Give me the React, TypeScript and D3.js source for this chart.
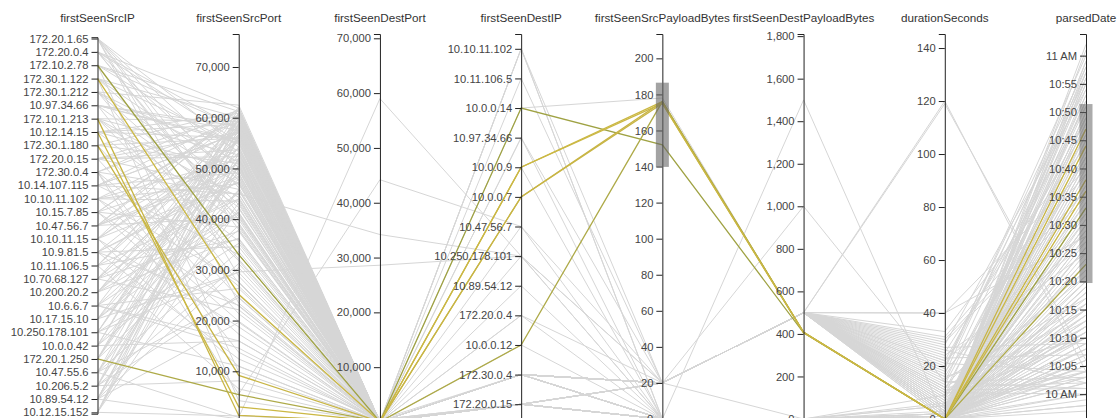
import React, { useEffect, useRef } from "react";
import * as d3 from "d3";

const dimensions = [
  "firstSeenSrcIP",
  "firstSeenSrcPort",
  "firstSeenDestPort",
  "firstSeenDestIP",
  "firstSeenSrcPayloadBytes",
  "firstSeenDestPayloadBytes",
  "durationSeconds",
  "parsedDate",
];

const srcIPs = [
  "172.20.1.65", "172.20.0.4", "172.10.2.78", "172.30.1.122", "172.30.1.212",
  "10.97.34.66", "172.10.1.213", "10.12.14.15", "172.30.1.180", "172.20.0.15",
  "172.30.0.4", "10.14.107.115", "10.10.11.102", "10.15.7.85", "10.47.56.7",
  "10.10.11.15", "10.9.81.5", "10.11.106.5", "10.70.68.127", "10.200.20.2",
  "10.6.6.7", "10.17.15.10", "10.250.178.101", "10.0.0.42", "172.20.1.250",
  "10.47.55.6", "10.206.5.2", "10.89.54.12", "10.12.15.152",
];

const destIPs = [
  "10.10.11.102", "10.11.106.5", "10.0.0.14", "10.97.34.66", "10.0.0.9",
  "10.0.0.7", "10.47.56.7", "10.250.178.101", "10.89.54.12", "172.20.0.4",
  "10.0.0.12", "172.30.0.4", "172.20.0.15",
];

// Axis extents
const srcPortMax = 76507;
const destPortMax = 70785;
const srcPayloadMax = 213.5;
const destPayloadMax = 1810;
const durationMax = 145.3;
const dateExtent = ["09:55:36", "11:03:50"];

// Active brushes
const srcPayloadBrush = [139.8, 186.5];
const dateBrush = ["10:19:42", "10:51:25"];

// [srcIP index, srcPort, destPort, destIP index, srcPayloadBytes, destPayloadBytes, durationSeconds, time]
const flows: [number, number, number, number, number, number, number, string][] = [
  // flows inside both brushes
  [2, 33000, 53, 2, 152, 405, 0, "10:33"],
  [3, 25200, 53, 4, 176, 408, 0, "10:44"],
  [6, 1300, 53, 5, 176, 408, 0, "10:47"],
  [8, 9200, 53, 5, 175, 406, 0, "10:38"],
  [24, 5400, 53, 10, 176, 408, 0, "10:23"],
  [7, 3000, 80, 4, 175, 407, 0, "10:36"],
  // empty payload flows
  [0, 54210, 53, 12, 0, 0, 0, "10:58"],
  [1, 61877, 53, 12, 0, 0, 0, "10:12"],
  [4, 62480, 80, 11, 0, 0, 1, "10:41"],
  [5, 58311, 53, 12, 0, 0, 0, "10:03"],
  [7, 49602, 443, 12, 0, 0, 2, "10:27"],
  [9, 57140, 53, 11, 0, 0, 0, "10:15"],
  [10, 44872, 53, 12, 0, 0, 0, "10:49"],
  [11, 60215, 123, 12, 0, 0, 0, "10:06"],
  [12, 51833, 53, 12, 0, 0, 1, "10:33"],
  [13, 38420, 53, 11, 0, 0, 0, "09:58"],
  [14, 59987, 80, 12, 0, 0, 0, "10:18"],
  [15, 47215, 53, 12, 0, 0, 3, "10:55"],
  [16, 55480, 53, 12, 0, 0, 0, "10:09"],
  [17, 36017, 443, 11, 0, 0, 0, "10:44"],
  [18, 52977, 53, 12, 0, 0, 0, "10:22"],
  [19, 41338, 53, 12, 0, 0, 6, "10:04"],
  [20, 58745, 53, 12, 0, 0, 0, "10:37"],
  [21, 29506, 137, 12, 0, 0, 0, "10:11"],
  [22, 56021, 53, 11, 0, 0, 0, "10:52"],
  [23, 45790, 53, 12, 0, 0, 0, "10:02"],
  [24, 61012, 80, 12, 0, 0, 2, "10:29"],
  [25, 33650, 53, 12, 0, 0, 0, "10:14"],
  [26, 50488, 53, 12, 0, 0, 0, "10:46"],
  [27, 57890, 53, 11, 0, 0, 0, "10:07"],
  [28, 42105, 443, 12, 0, 0, 0, "10:35"],
  [2, 53320, 53, 12, 0, 0, 0, "10:19"],
  [3, 48760, 53, 12, 0, 0, 1, "10:00"],
  [6, 59210, 53, 11, 0, 0, 0, "10:57"],
  [8, 24480, 53, 12, 0, 0, 0, "10:10"],
  [0, 46230, 80, 12, 0, 0, 0, "10:24"],
  [1, 39870, 53, 12, 0, 0, 0, "10:05"],
  [5, 54990, 53, 12, 0, 0, 0, "10:40"],
  [9, 21350, 53, 11, 0, 0, 0, "10:13"],
  [11, 49125, 53, 12, 0, 0, 9, "10:53"],
  [13, 60544, 53, 12, 0, 0, 0, "10:08"],
  [15, 18760, 123, 12, 0, 0, 0, "10:31"],
  [17, 55870, 53, 12, 0, 0, 0, "09:57"],
  [19, 51460, 53, 11, 0, 0, 0, "10:16"],
  [21, 57320, 53, 12, 0, 0, 0, "10:48"],
  [23, 15980, 53, 12, 0, 0, 1, "10:04"],
  [25, 58870, 80, 12, 0, 0, 0, "10:26"],
  [27, 43210, 53, 12, 0, 0, 0, "10:59"],
  [10, 61590, 53, 11, 0, 0, 0, "10:12"],
  [12, 27640, 53, 12, 0, 0, 0, "10:39"],
  [14, 53780, 53, 12, 0, 0, 0, "10:03"],
  [16, 12430, 443, 12, 0, 0, 0, "10:21"],
  [18, 59640, 53, 12, 0, 0, 5, "10:51"],
  [20, 47890, 53, 11, 0, 0, 0, "10:07"],
  [22, 35210, 53, 12, 0, 0, 0, "10:17"],
  [24, 56640, 53, 12, 0, 0, 0, "10:43"],
  [26, 8120, 53, 12, 0, 0, 0, "09:59"],
  [28, 52110, 80, 12, 0, 0, 0, "10:28"],
  [7, 60870, 53, 11, 0, 0, 0, "10:56"],
  [4, 40560, 53, 12, 0, 0, 0, "10:09"],
  [6, 31780, 53, 12, 0, 0, 1, "10:34"],
  [2, 58030, 53, 12, 0, 0, 0, "10:14"],
  [8, 50960, 53, 12, 0, 0, 0, "11:01"],
  [3, 4210, 123, 11, 0, 0, 0, "10:06"],
  [0, 37950, 53, 12, 0, 0, 0, "10:45"],
  [1, 55210, 53, 12, 0, 0, 0, "10:20"],
  [27, 600, 53, 12, 0, 0, 0, "10:25"],
  [28, 1200, 53, 11, 0, 0, 0, "10:37"],
  [4, 51240, 53, 12, 0, 0, 0, "10:47"],
  [5, 27450, 53, 12, 0, 0, 0, "10:09"],
  [9, 45870, 53, 12, 0, 0, 0, "10:36"],
  [10, 13750, 53, 12, 0, 0, 0, "10:00"],
  [11, 56980, 53, 12, 0, 0, 1, "10:23"],
  [13, 22870, 53, 12, 0, 0, 0, "10:50"],
  [14, 40320, 53, 12, 0, 0, 0, "10:13"],
  [15, 61980, 53, 12, 0, 0, 0, "10:41"],
  [16, 48210, 53, 12, 0, 0, 0, "09:58"],
  [17, 6540, 53, 12, 0, 0, 0, "10:30"],
  [18, 37620, 53, 12, 0, 0, 0, "10:54"],
  [19, 58210, 53, 12, 0, 0, 0, "10:11"],
  [20, 26340, 53, 12, 0, 0, 0, "10:38"],
  [21, 43980, 53, 12, 0, 0, 2, "10:05"],
  [22, 11020, 53, 12, 0, 0, 0, "10:26"],
  [23, 59780, 53, 12, 0, 0, 0, "10:49"],
  [25, 50390, 53, 12, 0, 0, 0, "10:16"],
  [26, 31240, 53, 12, 0, 0, 0, "10:43"],
  [27, 19650, 53, 12, 0, 0, 0, "10:02"],
  [28, 60040, 53, 12, 0, 0, 0, "10:33"],
  [0, 23450, 53, 12, 0, 0, 0, "10:18"],
  [1, 47650, 53, 12, 0, 0, 0, "11:02"],
  [2, 9870, 53, 12, 0, 0, 0, "10:07"],
  [3, 54760, 53, 12, 0, 0, 0, "10:28"],
  [6, 44320, 53, 12, 0, 0, 0, "10:52"],
  [7, 35670, 53, 12, 0, 0, 0, "10:04"],
  [8, 61320, 53, 12, 0, 0, 0, "10:40"],
  [12, 57430, 53, 12, 0, 0, 0, "10:24"],
  // 20 byte requests with 500 byte answers
  [0, 50120, 53, 11, 20, 500, 4, "10:38"],
  [2, 61230, 53, 11, 20, 500, 12, "10:02"],
  [4, 46870, 53, 12, 20, 500, 0, "10:50"],
  [5, 55430, 53, 11, 20, 500, 8, "10:15"],
  [6, 39210, 53, 11, 20, 500, 22, "10:27"],
  [7, 58760, 53, 11, 20, 500, 2, "10:05"],
  [9, 52340, 53, 12, 20, 500, 16, "10:42"],
  [10, 26780, 53, 11, 20, 500, 6, "10:11"],
  [11, 57010, 53, 11, 20, 500, 28, "10:54"],
  [12, 43560, 53, 11, 20, 500, 1, "10:19"],
  [13, 60120, 53, 12, 20, 500, 10, "10:00"],
  [14, 48430, 53, 11, 20, 500, 18, "10:32"],
  [15, 53890, 53, 11, 20, 500, 3, "10:08"],
  [16, 34560, 53, 11, 20, 500, 25, "10:47"],
  [17, 59340, 53, 12, 20, 500, 5, "10:23"],
  [18, 22130, 53, 11, 20, 500, 14, "10:03"],
  [19, 56780, 53, 11, 20, 500, 30, "10:36"],
  [20, 41230, 53, 11, 20, 500, 9, "10:13"],
  [21, 51670, 53, 12, 20, 500, 20, "10:58"],
  [22, 58120, 53, 11, 20, 500, 7, "10:10"],
  [23, 37890, 53, 11, 20, 500, 12, "10:29"],
  [24, 54320, 53, 11, 20, 500, 33, "10:44"],
  [25, 45670, 53, 12, 20, 500, 2, "10:06"],
  [26, 60890, 53, 11, 20, 500, 15, "10:17"],
  [27, 30450, 53, 11, 20, 500, 4, "10:52"],
  [28, 49780, 53, 11, 20, 500, 24, "10:25"],
  [1, 57650, 53, 12, 20, 500, 11, "10:01"],
  [3, 42890, 53, 11, 20, 500, 40, "10:40"],
  [8, 55990, 53, 11, 20, 500, 6, "10:12"],
  [12, 19870, 53, 11, 20, 500, 17, "10:57"],
  [14, 61540, 53, 12, 20, 500, 1, "10:30"],
  [16, 47320, 53, 11, 20, 500, 21, "10:04"],
  [18, 53140, 53, 11, 20, 500, 13, "10:49"],
  [20, 14560, 53, 11, 20, 500, 3, "10:18"],
  [22, 59870, 53, 12, 20, 500, 27, "10:09"],
  [24, 38760, 53, 11, 20, 500, 8, "10:34"],
  [26, 52890, 53, 11, 20, 500, 19, "11:00"],
  [28, 56450, 53, 11, 20, 500, 5, "10:14"],
  [0, 28760, 53, 12, 20, 500, 10, "10:21"],
  [9, 60450, 53, 11, 20, 500, 2, "10:45"],
  [11, 44980, 53, 11, 20, 500, 23, "10:07"],
  [13, 50760, 53, 11, 20, 500, 0, "10:53"],
  [15, 10980, 53, 12, 20, 500, 12, "10:16"],
  [17, 58540, 53, 11, 20, 500, 31, "10:39"],
  [19, 36240, 53, 11, 20, 500, 26, "10:02"],
  [4, 32100, 53, 11, 20, 500, 7, "10:31"],
  [6, 52650, 53, 11, 20, 500, 16, "10:10"],
  [10, 59120, 53, 11, 20, 500, 11, "10:46"],
  [13, 17340, 53, 11, 20, 500, 4, "10:20"],
  [15, 55340, 53, 11, 20, 500, 19, "10:56"],
  [19, 48990, 53, 11, 20, 500, 1, "10:12"],
  [21, 40890, 53, 11, 20, 500, 29, "10:35"],
  [23, 61780, 53, 11, 20, 500, 6, "10:03"],
  [25, 24560, 53, 11, 20, 500, 22, "10:51"],
  [27, 56120, 53, 11, 20, 500, 10, "10:15"],
  [5, 42340, 53, 11, 20, 500, 3, "10:42"],
  [9, 53670, 53, 11, 20, 500, 14, "10:01"],
  // other flows
  [25, 900, 59000, 7, 0, 0, 1, "10:15"],
  [10, 5500, 44200, 6, 20, 1000, 14, "10:55"],
  [18, 45000, 34200, 7, 0, 0, 2, "10:26"],
  [22, 29600, 28600, 7, 20, 0, 0, "10:11"],
  [0, 41000, 80, 0, 0, 1500, 0, "10:30"],
  [5, 57500, 53, 0, 20, 500, 120, "10:04"],
  [14, 49800, 53, 1, 20, 500, 119, "10:06"],
  [11, 33000, 53, 2, 178, 405, 0, "10:56"],
  [16, 23000, 53, 3, 0, 0, 0, "10:32"],
  [27, 52000, 53, 3, 20, 500, 3, "10:48"],
  [20, 16000, 80, 8, 0, 0, 5, "10:10"],
  [3, 60000, 53, 9, 0, 0, 1, "10:42"],
  [26, 25000, 53, 9, 20, 500, 9, "10:22"],
  [12, 47000, 53, 6, 0, 0, 0, "10:59"],
  [7, 56000, 53, 0, 0, 0, 0, "10:19"],
  [1, 39000, 53, 4, 0, 0, 2, "10:57"],
  [24, 50500, 53, 10, 0, 0, 0, "10:08"],
  [17, 44000, 53, 7, 20, 500, 40, "10:28"],
];

const parseTime = (s: string) => {
  const [h, m, sec] = s.split(":").map(Number);
  return new Date(2013, 3, 1, h, m, sec || 0);
};

export default function App() {
  const ref = useRef<SVGSVGElement>(null);

  useEffect(() => {
    const svg = d3.select(ref.current);
    svg.selectAll("*").remove();

    const top = 34;
    const bottom = 419;
    const portBottom = 422;
    const font = "'Liberation Sans', Arial, sans-serif";

    const x = d3.scalePoint<string>().domain(dimensions).range([97.5, 1086]);

    const y: Record<string, any> = {
      firstSeenSrcIP: d3.scalePoint<string>().domain(srcIPs).range([37.2, 413.7]).padding(0.1),
      firstSeenSrcPort: d3.scaleLinear().domain([0, srcPortMax]).range([portBottom, top]),
      firstSeenDestPort: d3.scaleLinear().domain([0, destPortMax]).range([portBottom, top]),
      firstSeenDestIP: d3.scalePoint<string>().domain(destIPs).range([top, bottom]).padding(0.5),
      firstSeenSrcPayloadBytes: d3.scaleLinear().domain([0, srcPayloadMax]).range([bottom, top]),
      firstSeenDestPayloadBytes: d3.scaleLinear().domain([0, destPayloadMax]).range([bottom, top]),
      durationSeconds: d3.scaleLinear().domain([0, durationMax]).range([bottom, top]),
      parsedDate: d3.scaleTime().domain(dateExtent.map(parseTime)).range([bottom, top]),
    };

    const rows = flows.map((r) => ({
      firstSeenSrcIP: srcIPs[r[0]],
      firstSeenSrcPort: r[1],
      firstSeenDestPort: r[2],
      firstSeenDestIP: destIPs[r[3]],
      firstSeenSrcPayloadBytes: r[4],
      firstSeenDestPayloadBytes: r[5],
      durationSeconds: r[6],
      parsedDate: parseTime(r[7]),
    }));

    const d0 = parseTime(dateBrush[0]);
    const d1 = parseTime(dateBrush[1]);
    const isActive = (d: any) =>
      d.firstSeenSrcPayloadBytes >= srcPayloadBrush[0] &&
      d.firstSeenSrcPayloadBytes <= srcPayloadBrush[1] &&
      d.parsedDate >= d0 &&
      d.parsedDate <= d1;

    const line = d3.line();
    const path = (d: any) =>
      line(dimensions.map((k) => [x(k) as number, y[k](d[k])]));

    const color = d3
      .scaleOrdinal<string>()
      .domain(["10.0.0.14", "10.0.0.9", "10.0.0.7", "10.0.0.12"])
      .range(["#9fa243", "#cbb844", "#c8b545", "#aeaa48"]);

    svg
      .append("g")
      .selectAll("path")
      .data(rows.filter((d) => !isActive(d)))
      .join("path")
      .attr("d", path)
      .attr("fill", "none")
      .attr("stroke", "#d6d6d6")
      .attr("stroke-width", 1);

    svg
      .append("g")
      .selectAll("path")
      .data(rows.filter(isActive))
      .join("path")
      .attr("d", path)
      .attr("fill", "none")
      .attr("stroke", (d: any) => color(d.firstSeenDestIP))
      .attr("stroke-width", 1.3);

    dimensions.forEach((k) => {
      const g = svg
        .append("g")
        .attr("transform", `translate(${x(k)},0)`);
      let axis = d3.axisLeft(y[k]);
      if (k === "parsedDate") axis = axis.ticks(d3.timeMinute.every(5));
      g.call(axis as any);
      g.attr("font-size", 11.2).attr("font-family", font).attr("color", "#222");
      g.selectAll(".tick text").attr("fill", "#444");
      g.append("text")
        .attr("x", 0)
        .attr("y", 21.5)
        .attr("text-anchor", "middle")
        .attr("fill", "#333")
        .attr("font-size", 11.7)
        .text(k);
    });

    const brushG = svg.append("g");
    const ySP = y.firstSeenSrcPayloadBytes;
    brushG
      .append("rect")
      .attr("x", (x("firstSeenSrcPayloadBytes") as number) - 6.5)
      .attr("width", 13)
      .attr("y", ySP(srcPayloadBrush[1]))
      .attr("height", ySP(srcPayloadBrush[0]) - ySP(srcPayloadBrush[1]))
      .attr("fill", "#666")
      .attr("fill-opacity", 0.6);
    const yD = y.parsedDate;
    brushG
      .append("rect")
      .attr("x", (x("parsedDate") as number) - 6.5)
      .attr("width", 13)
      .attr("y", yD(d1))
      .attr("height", yD(d0) - yD(d1))
      .attr("fill", "#666")
      .attr("fill-opacity", 0.55);
  }, []);

  return (
    <svg
      ref={ref}
      width={1117}
      height={418}
      style={{ position: "absolute", left: 0, top: 0, overflow: "hidden", background: "#fff" }}
    />
  );
}
